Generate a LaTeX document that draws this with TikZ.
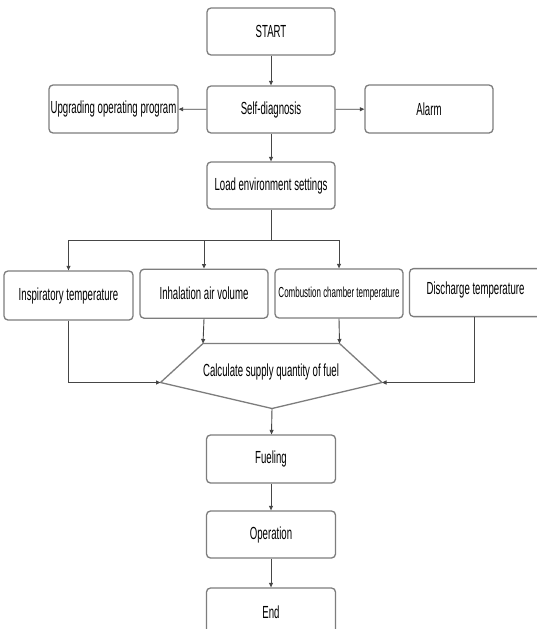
\documentclass[tikz,border=0pt]{standalone}
\usepackage{fontspec}
\usetikzlibrary{arrows.meta}
\newfontfamily\cond[FakeStretch=0.55]{Liberation Sans}
\definecolor{boxline}{RGB}{125,125,125}
\definecolor{wire}{RGB}{70,70,70}
\tikzset{
  flowbox/.style={draw=boxline, line width=1.3pt, rounded corners=4pt, fill=white,
    inner sep=0pt, minimum width=128pt, minimum height=47pt,
    font=\cond\fontsize{17.5}{19}\selectfont, text=black},
  wirearrow/.style={draw=wire, line width=0.9pt, -{Triangle[length=4.5pt,width=4pt]}},
  wireline/.style={draw=wire, line width=0.9pt},
  calcedge/.style={draw=boxline, line width=1.3pt, line join=round}
}
\begin{document}
\begin{tikzpicture}[x=1pt, y=-1pt]
\useasboundingbox (0,0) rectangle (536,629);
\fill[white] (0,0) rectangle (536,629);

% main column
\node[flowbox] (start) at (271,31.5) {START};
\node[flowbox] (selfd) at (271,109.5) {Self-diagnosis};
\node[flowbox, minimum width=129pt, minimum height=48pt] (upg) at (113.5,109) {Upgrading operating program};
\node[flowbox, minimum height=48pt] (alarm) at (429,109) {Alarm};
\node[flowbox] (load) at (271,185.5) {Load environment settings};

% measured quantities
\node[flowbox, minimum width=129pt, minimum height=49pt] (insp) at (68.5,295.5) {Inspiratory temperature};
\node[flowbox, minimum height=49pt] (inha) at (204,293.7) {Inhalation air volume};
\node[flowbox, minimum height=49pt, font=\cond\fontsize{14.5}{16}\selectfont] (comb) at (339,293.5) {Combustion chamber temperature};
\node[flowbox, minimum width=136pt, minimum height=48pt] (disc) at (477.5,292.6) {};
\node[font=\cond\fontsize{17.5}{19}\selectfont] (disclabel) at (475.5,290) {Discharge temperature};
\coordinate (discout) at (474.5,316.6);

% calculation block
\coordinate (ptl) at (203,343.5);
\coordinate (ptr) at (339.5,343.5);
\coordinate (pr) at (382,382.5);
\coordinate (pb) at (272,408.5);
\coordinate (pl) at (160.5,382.5);
\draw[calcedge] (ptl) -- (ptr) -- (pr) -- (pb) -- (pl) -- cycle;
\node[font=\cond\fontsize{17.5}{19}\selectfont] (calc) at (271,371.5) {Calculate supply quantity of fuel};

% lower column
\node[flowbox, minimum width=129pt, minimum height=48pt] (fuel) at (271,459) {Fueling};
\node[flowbox, minimum width=129pt] (oper) at (271,534.5) {Operation};
\node[flowbox, minimum width=129pt, minimum height=48pt] (fin) at (271,612) {End};

% connectors
\draw[wirearrow] (start) -- (selfd);
\draw[wirearrow] (selfd) -- (upg);
\draw[wirearrow] (selfd) -- (alarm);
\draw[wirearrow] (selfd) -- (load);
\draw[wireline] (load.south) -- ++(0,31) coordinate (split);
\draw[wirearrow] (split) -| (insp.north);
\draw[wirearrow] (split) -| (inha.north);
\draw[wirearrow] (split) -| (comb.north);
\draw[wirearrow] (insp.south) |- (pl);
\draw[wirearrow] (inha.south) -- (ptl);
\draw[wirearrow] (comb.south) -- (ptr);
\draw[wirearrow] (discout) |- (pr);
\draw[wirearrow] (pb) -- (fuel);
\draw[wirearrow] (fuel) -- (oper);
\draw[wirearrow] (oper) -- (fin);
\end{tikzpicture}
\end{document}
